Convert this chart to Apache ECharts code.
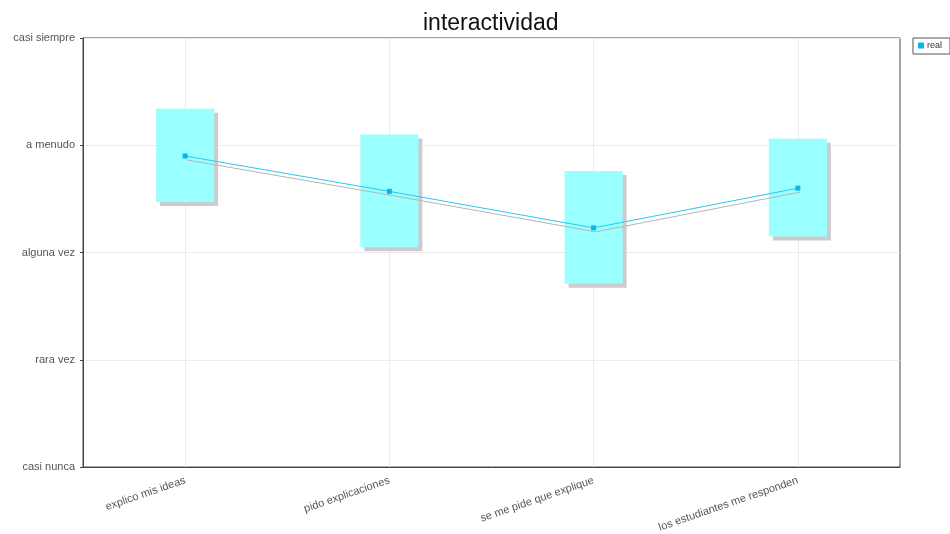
<!DOCTYPE html>
<html>
<head>
<meta charset="utf-8">
<script src="https://cdn.jsdelivr.net/npm/echarts@6/dist/echarts.min.js"></script>
<style>
  html, body { margin: 0; padding: 0; background: #fff; }
  #chart { width: 950px; height: 534px; }
</style>
</head>
<body>
<div id="chart"></div>
<script>
// Frequency scale shown on the vertical axis (1 = casi nunca ... 5 = casi siempre)
const levels = ['casi nunca', 'rara vez', 'alguna vez', 'a menudo', 'casi siempre'];

// Items rated
const categories = ['explico mis ideas', 'pido explicaciones', 'se me pide que explique', 'los estudiantes me responden'];

// Mean rating per item
const means = [3.90, 3.57, 3.23, 3.60];

// Spread band per item (lower / upper edge)
const lows  = [3.47, 3.05, 2.71, 3.15];
const highs = [4.34, 4.10, 3.76, 4.06];

const FONT = 'Liberation Sans, Arial, sans-serif';
const chart = echarts.init(document.getElementById('chart'), null, { renderer: 'canvas' });

const bandData = categories.map((c, i) => [i, lows[i], highs[i]]);

chart.setOption({
  animation: false,
  backgroundColor: '#ffffff',
  title: {
    text: 'interactividad',
    left: 423,
    top: 12,
    padding: 0,
    textStyle: { fontFamily: FONT, fontSize: 23, fontWeight: 'normal', color: '#111' }
  },
  legend: {
    data: [{ name: 'real', icon: 'rect' }],
    right: 0,
    top: 38,
    orient: 'vertical',
    itemWidth: 6,
    itemHeight: 6,
    itemGap: 2,
    padding: [3, 8, 4, 5],
    borderColor: '#555',
    borderWidth: 1,
    textStyle: { fontFamily: FONT, fontSize: 9, color: '#333', padding: [0, 0, 0, -2] }
  },
  grid: {
    left: 83, top: 38, right: 50, bottom: 65,
    show: true, borderColor: '#444', borderWidth: 1, backgroundColor: '#fff'
  },
  xAxis: {
    type: 'category',
    data: categories,
    boundaryGap: true,
    axisLine: { lineStyle: { color: '#444', width: 1 } },
    axisTick: { alignWithLabel: true, inside: true, length: 3, lineStyle: { color: '#444' } },
    splitLine: { show: true, alignWithLabel: true, lineStyle: { color: '#ececec', width: 1 } },
    axisLabel: {
      rotate: 19, margin: 13, interval: 0,
      fontFamily: FONT, fontSize: 11, color: '#555'
    }
  },
  yAxis: {
    type: 'value',
    min: 1, max: 5, interval: 1,
    axisLine: { show: true, lineStyle: { color: '#444', width: 1 } },
    axisTick: { show: true, length: 3, lineStyle: { color: '#444' } },
    splitLine: { show: true, lineStyle: { color: '#ececec', width: 1 } },
    axisLabel: {
      margin: 8,
      fontFamily: FONT, fontSize: 11, color: '#555',
      formatter: v => levels[Math.round(v) - 1] || ''
    }
  },
  series: [
    {
      name: 'band',
      type: 'custom',
      z: 1,
      data: bandData,
      renderItem: function (params, api) {
        const top = api.coord([api.value(0), api.value(2)]);
        const bottom = api.coord([api.value(0), api.value(1)]);
        const w = api.size([1, 0])[0] * 0.284;
        const x = top[0] - w / 2;
        const h = bottom[1] - top[1];
        return {
          type: 'group',
          children: [
            { type: 'rect', shape: { x: x + 4, y: top[1] + 4, width: w, height: h }, style: { fill: '#cccccc' } },
            { type: 'rect', shape: { x: x, y: top[1], width: w, height: h }, style: { fill: '#99ffff' } }
          ]
        };
      }
    },
    {
      name: 'real',
      type: 'line',
      z: 3,
      data: means,
      symbol: 'rect',
      symbolSize: 5,
      itemStyle: { color: '#0bb6ee' },
      lineStyle: {
        color: '#2ac8f2', width: 1,
        shadowColor: '#b5b5b5', shadowBlur: 0, shadowOffsetX: 2, shadowOffsetY: 4
      }
    }
  ]
});
</script>
</body>
</html>
